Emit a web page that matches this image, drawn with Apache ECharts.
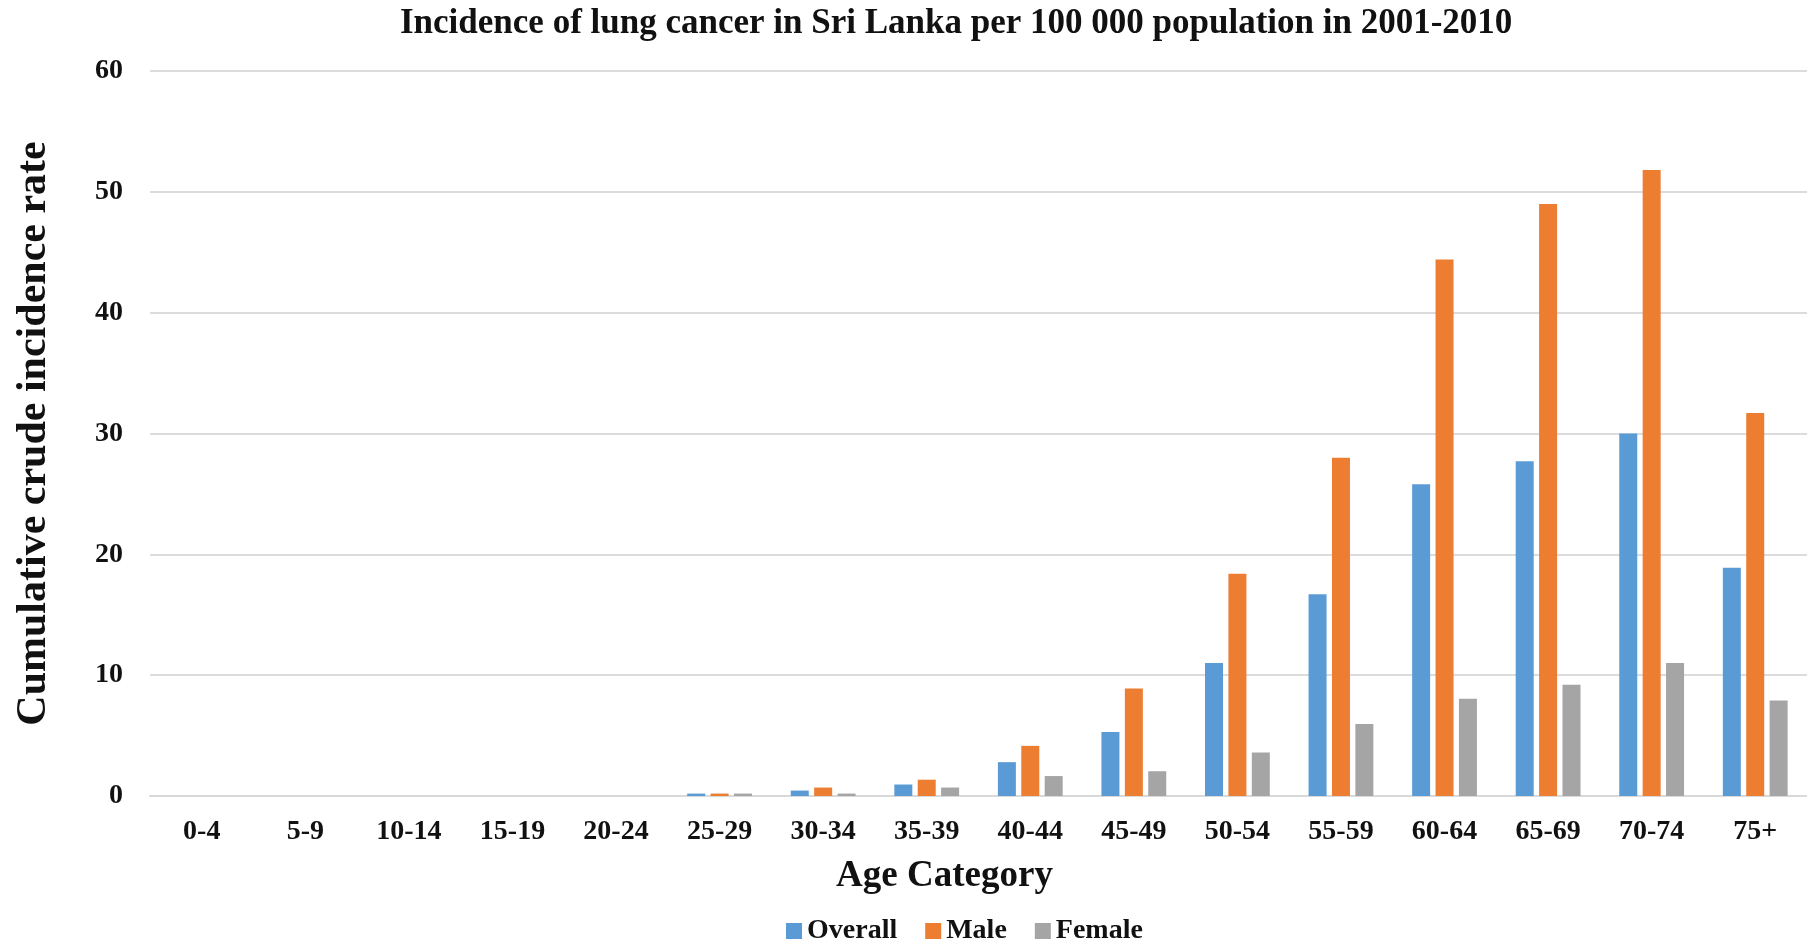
<!DOCTYPE html>
<html>
<head>
<meta charset="utf-8">
<title>Lung cancer incidence - Sri Lanka</title>
<script src="https://cdn.jsdelivr.net/npm/echarts@6/dist/echarts.min.js"></script>
<style>
    html, body { margin: 0; padding: 0; background: #fff; }
    #chart { width: 1807px; height: 943px; }
</style>
</head>
<body>
<div id="chart"></div>
<script>
var ageGroups = ['0-4', '5-9', '10-14', '15-19', '20-24', '25-29', '30-34', '35-39',
    '40-44', '45-49', '50-54', '55-59', '60-64', '65-69', '70-74', '75+'];
var overallRate = [0, 0, 0, 0, 0, 0.2, 0.45, 0.95, 2.8, 5.3, 11.0, 16.7, 25.8, 27.7, 30.0, 18.9];
var maleRate = [0, 0, 0, 0, 0, 0.2, 0.7, 1.35, 4.15, 8.9, 18.4, 28.0, 44.4, 49.0, 51.8, 31.7];
var femaleRate = [0, 0, 0, 0, 0, 0.2, 0.2, 0.7, 1.65, 2.05, 3.6, 5.95, 8.05, 9.2, 11.0, 7.9];
var seriesNames = ['Overall', 'Male', 'Female'];
var yMin = 0, yMax = 60, yStep = 10;

var FONT = '"Liberation Serif", "Times New Roman", serif';
var INK = '#111';

function DrawChart() {
    var myChart = echarts.init(document.getElementById('chart'));

    function bar(name, values, color) {
        return {
            name: name,
            type: 'bar',
            data: values,
            barWidth: 18,
            barGap: '30%',
            itemStyle: { color: color },
            emphasis: { disabled: true }
        };
    }

    var option = {
        animation: false,
        title: {
            text: 'Incidence of lung cancer in Sri Lanka per 100 000 population in 2001-2010',
            left: 395,
            top: 1,
            textStyle: { fontFamily: FONT, fontWeight: 'bold', fontSize: 35, color: INK }
        },
        legend: {
            data: seriesNames,
            left: 781,
            top: 912,
            icon: 'rect',
            itemWidth: 16,
            itemHeight: 16,
            itemGap: 28,
            textStyle: { fontFamily: FONT, fontWeight: 'bold', fontSize: 28, color: INK }
        },
        grid: {
            left: 150,
            top: 71,
            width: 1668,
            bottom: 147,
            containLabel: false
        },
        xAxis: {
            type: 'category',
            data: ageGroups,
            name: 'Age Category',
            nameLocation: 'middle',
            nameGap: 80,
            nameTextStyle: {
                fontFamily: FONT, fontWeight: 'bold', fontSize: 37, color: INK,
                verticalAlign: 'middle', padding: [0, 68, 0, 0]
            },
            axisLine: { lineStyle: { color: '#d9d9d9', width: 2 } },
            axisTick: { show: false },
            axisLabel: {
                fontFamily: FONT, fontWeight: 'bold', fontSize: 28, color: INK,
                margin: 22, interval: 0
            }
        },
        yAxis: {
            type: 'value',
            min: yMin,
            max: yMax,
            interval: yStep,
            name: 'Cumulative crude incidence rate',
            nameLocation: 'middle',
            nameGap: 116,
            nameTextStyle: {
                fontFamily: FONT, fontWeight: 'bold', fontSize: 42, color: INK,
                verticalAlign: 'middle'
            },
            axisLine: { show: false },
            axisTick: { show: false },
            axisLabel: {
                fontFamily: FONT, fontWeight: 'bold', fontSize: 28, color: INK,
                margin: 27
            },
            splitLine: { lineStyle: { color: '#dcdcdc', width: 2 } }
        },
        series: [
            bar(seriesNames[0], overallRate, '#5b9bd5'),
            bar(seriesNames[1], maleRate, '#ed7d31'),
            bar(seriesNames[2], femaleRate, '#a5a5a5')
        ]
    };

    myChart.setOption(option, true);
}

window.onload = DrawChart;
</script>
</body>
</html>
